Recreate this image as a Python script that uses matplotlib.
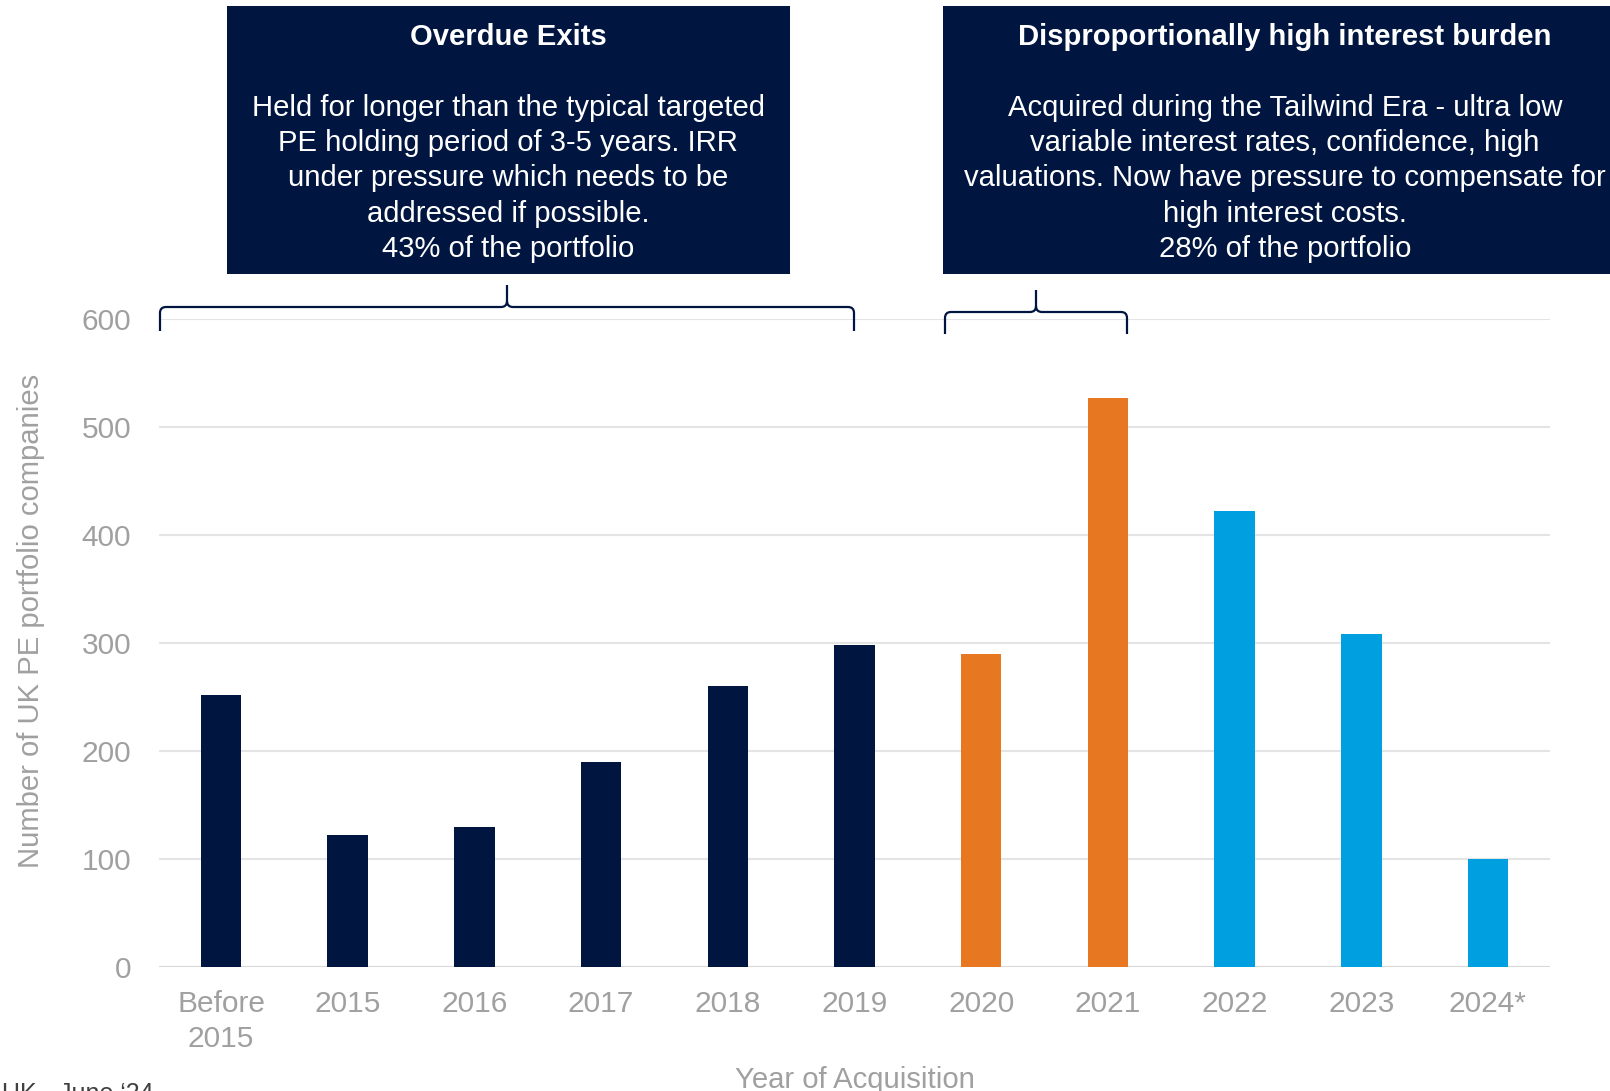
import matplotlib
matplotlib.use("Agg")
import matplotlib.pyplot as plt
from matplotlib.path import Path
from matplotlib.patches import PathPatch, Rectangle

# --- data -------------------------------------------------------------
categories = ["Before\n2015", "2015", "2016", "2017", "2018", "2019",
              "2020", "2021", "2022", "2023", "2024*"]
companies = [252, 122, 129, 190, 260, 298, 290, 527, 422, 308, 100]
groups = ["overdue"] * 6 + ["tailwind"] * 2 + ["recent"] * 3
y_ticks = [0, 100, 200, 300, 400, 500, 600]

left_title = "Overdue Exits"
left_lines = ["Held for longer than the typical targeted",
              "PE holding period of 3-5 years. IRR",
              "under pressure which needs to be",
              "addressed if possible.",
              "43% of the portfolio"]
right_title = "Disproportionally high interest burden"
right_lines = ["Acquired during the Tailwind Era - ultra low",
               "variable interest rates, confidence, high",
               "valuations. Now have pressure to compensate for",
               "high interest costs.",
               "28% of the portfolio"]

# --- style ------------------------------------------------------------
NAVY = "#001540"
ORANGE = "#E87722"
BLUE = "#009FDF"
GREY = "#A0A0A0"
GRID = "#E4E4E4"
group_colors = {"overdue": NAVY, "tailwind": ORANGE, "recent": BLUE}
FS = 21.1

plt.rcParams["font.family"] = ["Liberation Sans", "DejaVu Sans"]

W, H = 1610, 1091
fig = plt.figure(figsize=(W / 100, H / 100), dpi=100)


def fx(px):
    return px / W


def fy(py):
    return 1 - py / H


ax_left, ax_right, ax_top, ax_bottom = 159, 1550, 318.7, 966.7
ax = fig.add_axes([fx(ax_left), fy(ax_bottom),
                   fx(ax_right - ax_left), (ax_bottom - ax_top) / H])

x = list(range(len(categories)))
ax.bar(x, companies, width=0.32,
       color=[group_colors[g] for g in groups], zorder=3)

ax.set_xlim(-0.49, 10.49)
ax.set_ylim(0, 600)
ax.set_yticks(y_ticks)
ax.set_xticks(x)
ax.set_xticklabels(categories, fontsize=21.5, color=GREY, linespacing=1.3)
ax.tick_params(axis="y", labelsize=21.5, labelcolor=GREY, length=0, pad=20)
ax.tick_params(axis="x", length=0, pad=17)
ax.yaxis.grid(True, color=GRID, linewidth=1.5, zorder=0)
ax.set_axisbelow(True)
for s in ax.spines.values():
    s.set_visible(False)
ax.axhline(0, color="#D9D9D9", linewidth=1.5, zorder=2)

span_x = ax_right - ax_left
span_y = ax_bottom - ax_top
ax.set_ylabel("Number of UK PE portfolio companies", fontsize=FS, color=GREY)
ax.yaxis.set_label_coords((45 - ax_left) / span_x, (ax_bottom - 621) / span_y)
ax.set_xlabel("Year of Acquisition", fontsize=FS, color=GREY)
ax.xaxis.set_label_coords(0.5, (ax_bottom - 1066) / span_y)


# --- curly brackets over the bar groups ---------------------------------
def bracket(x0, x1, y_bar, y_end, y_tip, r=6):
    xm = (x0 + x1) / 2
    verts = [
        (x0, y_end), (x0, y_bar + r), (x0, y_bar), (x0 + r, y_bar),
        (xm - r, y_bar), (xm, y_bar), (xm, y_bar - r), (xm, y_tip),
        (xm, y_bar - r), (xm, y_bar), (xm + r, y_bar),
        (x1 - r, y_bar), (x1, y_bar), (x1, y_bar + r), (x1, y_end),
    ]
    codes = [Path.MOVETO, Path.LINETO, Path.CURVE3, Path.CURVE3,
             Path.LINETO, Path.CURVE3, Path.CURVE3, Path.LINETO,
             Path.MOVETO, Path.CURVE3, Path.CURVE3,
             Path.LINETO, Path.CURVE3, Path.CURVE3, Path.LINETO]
    verts = [(fx(a), fy(b)) for a, b in verts]
    fig.add_artist(PathPatch(Path(verts, codes), transform=fig.transFigure,
                             facecolor="none", edgecolor=NAVY, linewidth=1.6))


bracket(160, 854, 307, 331, 285)
bracket(945, 1127, 312, 334, 290)


# --- annotation boxes ------------------------------------------------------
def text_box(x0, x1, title, lines, cx):
    fig.add_artist(Rectangle((fx(x0), fy(274)), fx(x1 - x0), (274 - 6) / H,
                             transform=fig.transFigure, facecolor=NAVY,
                             edgecolor="none"))
    fig.text(fx(cx), fy(37), title, ha="center", va="center", color="white",
             fontsize=FS, fontweight="bold")
    for i, line in enumerate(lines):
        fig.text(fx(cx), fy(108 + 35.2 * i), line, ha="center", va="center",
                 color="white", fontsize=FS)


text_box(227, 790, left_title, left_lines, 508)
text_box(943, 1610, right_title, right_lines, 1285)

fig.text(fx(2), fy(1082), "UK - June \u201824", ha="left", va="top",
         fontsize=18, color="#404040")

fig.savefig("out.png", dpi=100)
